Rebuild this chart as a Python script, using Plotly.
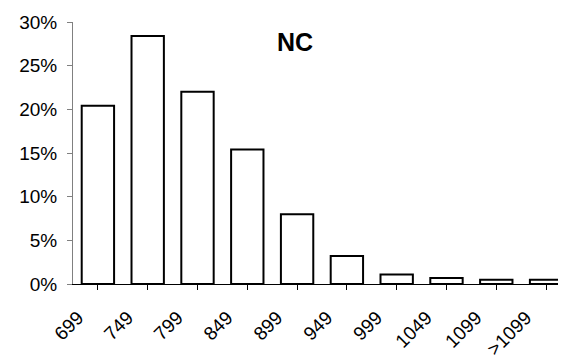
import plotly.graph_objects as go

categories = ["699", "749", "799", "849", "899", "949", "999", "1049", "1099", ">1099"]
values = [20.4, 28.4, 22.0, 15.4, 8.0, 3.2, 1.1, 0.7, 0.5, 0.5]
y_ticks = [0, 5, 10, 15, 20, 25, 30]
y_labels = [f"{v}%" for v in y_ticks]
title = "NC"

FONT = "Arial, Liberation Sans, sans-serif"

# page body has an 8px margin; size the figure to fill the rest of the window
W, H = 558, 354
L, T, R, B = 65, 14, 0, 78

fig = go.Figure(go.Bar(
    x=list(range(len(categories))),
    y=values,
    width=0.65,
    marker=dict(color="white", line=dict(color="black", width=2)),
))

fig.update_layout(
    width=W, height=H,
    margin=dict(l=L, r=R, t=T, b=B, autoexpand=False),
    paper_bgcolor="white", plot_bgcolor="white",
    showlegend=False,
    font=dict(family=FONT, size=19, color="black"),
)
fig.add_annotation(text="<b>" + title + "</b>", xref="paper", yref="paper",
                   x=0.45, y=0.925,
                   showarrow=False, font=dict(size=25, family=FONT),
                   xanchor="center", yanchor="middle")

fig.update_xaxes(
    range=[-0.5, 9.4],
    automargin=False,
    tickmode="array",
    tickvals=list(range(len(categories))),
    ticktext=categories,
    tickangle=-45,
    ticks="outside", ticklen=5, tickcolor="black",
    tickson="boundaries",
    ticklabelstandoff=9,
    ticklabelshift=-20,
    showline=True, linecolor="black", linewidth=1,
    showgrid=False, zeroline=False,
    tickfont=dict(size=19, family=FONT),
)
fig.update_yaxes(
    range=[0, 30],
    automargin=False,
    tickmode="array",
    tickvals=y_ticks,
    ticktext=y_labels,
    ticks="outside", ticklen=5, tickcolor="#808080",
    ticklabelstandoff=6,
    showline=True, linecolor="#808080", linewidth=1,
    showgrid=False, zeroline=False,
    tickfont=dict(size=19, family=FONT),
)

fig.write_html("out.html")
